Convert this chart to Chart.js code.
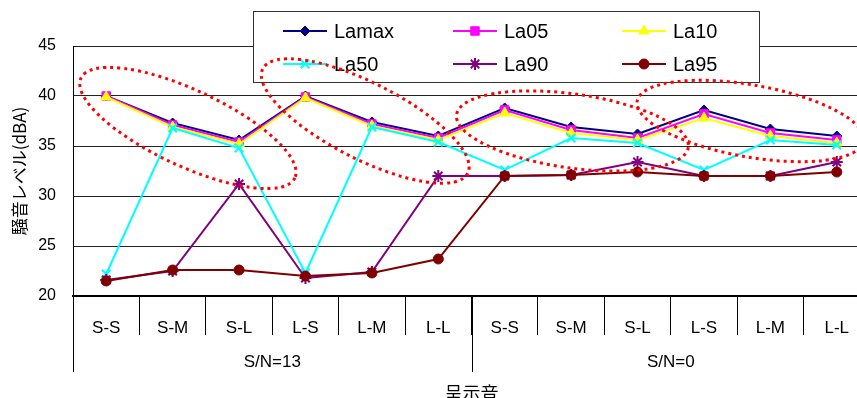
<!DOCTYPE html>
<html>
<head>
<meta charset="utf-8">
<script src="https://cdn.jsdelivr.net/npm/chart.js@4"></script>
<style>
  html, body { margin: 0; padding: 0; background: #fff; overflow: hidden; }
  #wrap { width: 857px; height: 398px; overflow: hidden; }
</style>
</head>
<body>
<div id="wrap"><canvas id="noiseChart" width="878" height="398"></canvas></div>
<script>
var categories = ['S-S', 'S-M', 'S-L', 'L-S', 'L-M', 'L-L', 'S-S', 'S-M', 'S-L', 'L-S', 'L-M', 'L-L'];
var groups = [{ label: 'S/N=13', from: 0, to: 5 }, { label: 'S/N=0', from: 6, to: 11 }];
var yTicks = [20, 25, 30, 35, 40, 45];

var lamax = [40.0, 37.3, 35.6, 40.0, 37.4, 36.0, 38.8, 36.9, 36.2, 38.6, 36.7, 36.0];
var la05  = [40.0, 37.1, 35.4, 39.9, 37.2, 35.8, 38.6, 36.6, 35.8, 38.2, 36.3, 35.6];
var la10  = [39.9, 36.9, 35.2, 39.8, 37.0, 35.6, 38.3, 36.3, 35.6, 37.8, 36.0, 35.3];
var la50  = [22.2, 36.8, 34.8, 22.3, 36.9, 35.4, 32.6, 35.8, 35.3, 32.6, 35.6, 35.1];
var la90  = [21.6, 22.5, 31.2, 21.8, 22.4, 32.0, 32.0, 32.1, 33.4, 32.0, 32.0, 33.4];
var la95  = [21.5, 22.6, 22.6, 22.0, 22.3, 23.7, 32.0, 32.1, 32.4, 32.0, 32.0, 32.4];

// highlighted regions: centre as (category position, dB), size in px, tilt in degrees
var highlights = [
    { x: 1.23, y: 36.8, rx: 118, ry: 38, tilt: 25 },
    { x: 3.9, y: 37.5, rx: 115, ry: 38, tilt: 27 },
    { x: 7.02, y: 36.5, rx: 117, ry: 37, tilt: 8 },
    { x: 9.7, y: 37.5, rx: 115, ry: 36, tilt: 10 }
];

var latin = "'Liberation Sans', Arial, sans-serif";
var jp = "'Noto Sans CJK JP', 'Liberation Sans', sans-serif";

function series(label, data, color, style, radius, order) {
    return {
        label: label,
        data: data,
        borderColor: color,
        backgroundColor: color,
        pointBackgroundColor: color,
        pointBorderColor: color,
        pointStyle: style,
        pointRadius: radius,
        pointHoverRadius: radius,
        pointBorderWidth: (style === 'crossRot' || style === 'star') ? 2 : 1,
        borderWidth: 2,
        tension: 0,
        order: order
    };
}

var legendPlugin = {
    id: 'boxLegend',
    afterDraw: function(chart) {
        var ctx = chart.ctx;
        var box = { x: 253, y: 11, w: 506, h: 71 };
        ctx.save();
        ctx.fillStyle = '#fff';
        ctx.fillRect(box.x, box.y, box.w, box.h);
        ctx.strokeStyle = '#333';
        ctx.lineWidth = 1;
        ctx.strokeRect(box.x + 0.5, box.y + 0.5, box.w, box.h);
        var cols = [283, 453, 622];
        var rows = [31, 64];
        chart.data.datasets.forEach(function(ds, i) {
            var lx = cols[i % 3], ly = rows[Math.floor(i / 3)];
            ctx.strokeStyle = ds.borderColor;
            ctx.lineWidth = 2;
            ctx.beginPath();
            ctx.moveTo(lx, ly);
            ctx.lineTo(lx + 44, ly);
            ctx.stroke();
            ctx.fillStyle = ds.backgroundColor;
            ctx.lineWidth = ds.pointBorderWidth;
            Chart.helpers.drawPoint(ctx, { pointStyle: ds.pointStyle, radius: ds.pointRadius, rotation: 0, borderWidth: ds.pointBorderWidth }, lx + 22, ly);
            ctx.fillStyle = '#000';
            ctx.font = '20px ' + latin;
            ctx.textBaseline = 'middle';
            ctx.textAlign = 'left';
            ctx.fillText(ds.label, lx + 51, ly + 1);
        });
        ctx.restore();
    }
};

var groupPlugin = {
    id: 'groupAxis',
    afterDraw: function(chart) {
        var ctx = chart.ctx;
        var xs = chart.scales.x;
        var top = chart.chartArea.bottom;
        var step = xs.getPixelForValue(1) - xs.getPixelForValue(0);
        ctx.save();
        ctx.strokeStyle = '#000';
        ctx.lineWidth = 1;
        ctx.fillStyle = '#000';
        ctx.font = '17px ' + latin;
        ctx.textAlign = 'center';
        ctx.textBaseline = 'middle';
        groups.forEach(function(g) {
            var left = xs.getPixelForValue(g.from) - step / 2;
            var right = xs.getPixelForValue(g.to) + step / 2;
            ctx.beginPath();
            ctx.moveTo(Math.round(left) + 0.5, top);
            ctx.lineTo(Math.round(left) + 0.5, top + 76);
            ctx.stroke();
            ctx.fillText(g.label, (left + right) / 2, top + 66);
        });
        ctx.restore();
    }
};

var highlightPlugin = {
    id: 'highlights',
    afterDraw: function(chart) {
        var ctx = chart.ctx;
        var xs = chart.scales.x, ys = chart.scales.y;
        var x0 = xs.getPixelForValue(0), step = xs.getPixelForValue(1) - x0;
        ctx.save();
        ctx.strokeStyle = '#ff0000';
        ctx.lineWidth = 3;
        ctx.setLineDash([3, 4]);
        highlights.forEach(function(h) {
            ctx.beginPath();
            ctx.ellipse(x0 + h.x * step, ys.getPixelForValue(h.y), h.rx, h.ry, h.tilt * Math.PI / 180, 0, Math.PI * 2);
            ctx.stroke();
        });
        ctx.restore();
    }
};

var ctx = document.getElementById('noiseChart').getContext('2d');
var noiseChart = new Chart(ctx, {
    type: 'line',
    data: {
        labels: categories,
        datasets: [
            series('Lamax', lamax, '#000080', 'rectRot', 5, 6),
            series('La05', la05, '#ff00ff', 'rect', 6, 5),
            series('La10', la10, '#ffff00', 'triangle', 6, 4),
            series('La50', la50, '#00ffff', 'crossRot', 6, 3),
            series('La90', la90, '#800080', 'star', 6, 2),
            series('La95', la95, '#800000', 'circle', 5, 1)
        ]
    },
    options: {
        responsive: false,
        animation: false,
        events: [],
        layout: { padding: { top: 46, left: 0, right: 0, bottom: 0 } },
        plugins: {
            legend: { display: false },
            tooltip: { enabled: false }
        },
        scales: {
            x: {
                offset: true,
                grid: {
                    offset: true,
                    drawOnChartArea: false,
                    drawTicks: true,
                    tickLength: 39,
                    color: '#000'
                },
                border: { display: true, color: '#000', width: 2 },
                ticks: {
                    color: '#000',
                    font: { family: latin, size: 17 },
                    padding: -17,
                    maxRotation: 0,
                    autoSkip: false
                },
                title: {
                    display: true,
                    text: '呈示音',
                    color: '#000',
                    font: { family: jp, size: 18 },
                    padding: { top: 0, bottom: -6 }
                },
                afterFit: function(scale) { scale.height = 102; }
            },
            y: {
                min: 20,
                max: 45,
                afterBuildTicks: function(scale) {
                    scale.ticks = yTicks.map(function(v) { return { value: v }; });
                },
                grid: { color: '#222', lineWidth: 1, drawTicks: false },
                border: { display: true, color: '#000', width: 1 },
                ticks: {
                    color: '#000',
                    font: { family: latin, size: 16 },
                    padding: 17
                },
                title: {
                    display: true,
                    text: '騒音レベル(dBA)',
                    color: '#000',
                    font: { family: jp, size: 17 },
                    padding: { top: 9, bottom: 0 }
                },
                afterFit: function(scale) { scale.width = 73; }
            }
        }
    },
    plugins: [groupPlugin, legendPlugin, highlightPlugin]
});
</script>
</body>
</html>
